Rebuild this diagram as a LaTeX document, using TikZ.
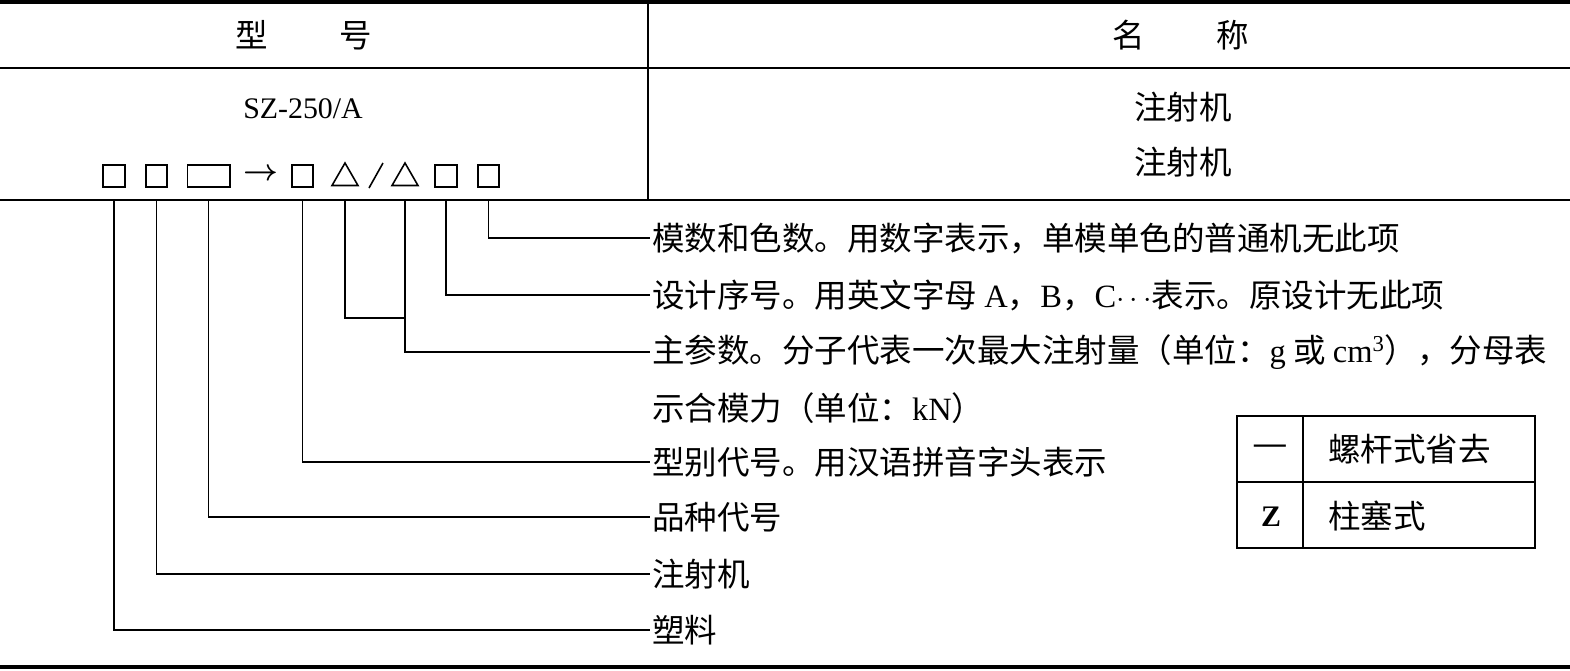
\documentclass[tikz,border=0pt]{standalone}
\usepackage{fontspec}
\setmainfont{Liberation Serif}
\newfontfamily\cjk{Noto Sans CJK SC}
\usetikzlibrary{positioning, shapes.geometric}
\newcommand\lat[1]{{\rmfamily #1}}

\begin{document}
\begin{tikzpicture}[
        x=0.02cm, y=-0.02cm,
        txt/.style={font=\cjk\fontsize{18.5}{20}\selectfont, inner sep=0pt},
        desc/.style={txt, anchor=west, inner sep=1pt},
        sq/.style={rectangle, draw, line width=0.9pt, minimum width=0.43cm, minimum height=0.43cm, inner sep=0pt},
        widesq/.style={sq, minimum width=0.85cm},
        tri/.style={regular polygon, regular polygon sides=3, draw, line width=0.9pt, minimum size=0.6cm, inner sep=0pt},
        leader/.style={line width=0.9pt},
        heavy/.style={line width=2.2pt}
    ]
        \useasboundingbox (0,0) rectangle (1570,670);

        % Table rules
        \draw[heavy] (0,2) -- (1570,2);
        \draw[leader] (0,68) -- (1570,68);
        \draw[leader] (0,200) -- (1570,200);
        \draw[leader] (648,0) -- (648,200);
        \draw[heavy] (0,667) -- (1570,667);
        \coordinate (rule) at (0,200);

        % Header
        \node[txt] (hdl) at (303.5,35) {型\hspace{2.2em}号};
        \node[txt] (hdr) at (1181,35) {名\hspace{2.2em}称};
        \node[txt, font=\rmfamily\fontsize{17}{20}\selectfont] (model) at (303,109) {SZ-250/A};
        \node[txt] (name1) at (1183,107) {注射机};
        \node[txt] (name2) at (1183,162) {注射机};

        % Code symbols
        \node[sq] (s1) at (114,176) {};
        \node[sq] (s2) at (156.5,176) {};
        \node[widesq] (s3) at (208.7,176) {};
        \node[inner sep=0pt, font=\boldmath\fontsize{16}{18}\selectfont] (arr) at (260.5,175) {$\rightarrow$};
        \node[sq] (s4) at (302.5,176) {};
        \node[tri] (t1) at (345,178) {};
        \draw[line width=0.9pt] (369,188) -- (383,163);
        \node[tri] (t2) at (405,178) {};
        \node[sq] (s5) at (446,176) {};
        \node[sq] (s6) at (488.5,176) {};

        % Descriptions
        \node[desc] (d1) at (650,238) {模数和色数。用数字表示，单模单色的普通机无此项};
        \node[desc] (d2) at (650,295) {设计序号。用英文字母 \lat{A}，\lat{B}，\lat{C}$\cdots$表示。原设计无此项};
        \node[desc] (d3) at (650,352) {主参数。分子代表一次最大注射量（单位：\lat{g} 或 \lat{cm\textsuperscript{3}}），分母表};
        \node[desc] (d3b) at (650,408) {示合模力（单位：\lat{kN}）};
        \node[desc] (d4) at (650,462) {型别代号。用汉语拼音字头表示};
        \node[desc] (d5) at (650,517) {品种代号};
        \node[desc] (d6) at (650,574) {注射机};
        \node[desc] (d7) at (650,630) {塑料};

        % Leaders
        \coordinate (join) at (0,318);
        \draw[leader] (s6 |- rule) |- (d1.west);
        \draw[leader] (s5 |- rule) |- (d2.west);
        \draw[leader] (t1 |- rule) |- (t2 |- join);
        \draw[leader] (t2 |- rule) |- (d3.west);
        \draw[leader] (s4 |- rule) |- (d4.west);
        \draw[leader] (s3 |- rule) |- (d5.west);
        \draw[leader] (s2 |- rule) |- (d6.west);
        \draw[leader] (s1 |- rule) |- (d7.west);

        % Legend
        \draw[leader] (1237,416) rectangle (1535,548);
        \draw[leader] (1237,482) -- (1535,482);
        \draw[leader] (1303,416) -- (1303,548);
        \node[txt, font=\rmfamily\bfseries\fontsize{18}{20}\selectfont] (k1) at (1270,449) {—};
        \node[txt, anchor=west] (v1) at (1328,449) {螺杆式省去};
        \node[txt, font=\rmfamily\bfseries\fontsize{17}{20}\selectfont] (k2) at (1271,517) {Z};
        \node[txt, anchor=west] (v2) at (1328,516) {柱塞式};
\end{tikzpicture}
\end{document}
